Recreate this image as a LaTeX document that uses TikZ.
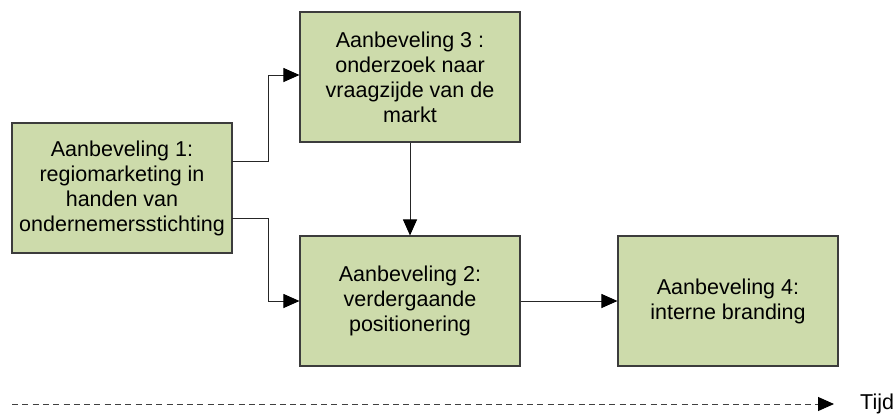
\documentclass[tikz,border=0pt]{standalone}
\usepackage{fontspec}
\setmainfont{Liberation Sans}
\usetikzlibrary{arrows.meta}
\definecolor{boxfill}{RGB}{205,219,171}
\definecolor{boxline}{RGB}{60,60,60}
\tikzset{
  tip/.style={-{Triangle[length=16pt,width=14pt,color=black]}},
  stepbox/.style={draw=boxline, line width=1.1pt, fill=boxfill, minimum width=220pt,
    minimum height=130pt, align=center, inner sep=0pt,
    font=\fontsize{21.5pt}{25pt}\selectfont},
  link/.style={draw=black!85, line width=1pt, tip},
}
\begin{document}
\begin{tikzpicture}[x=1pt,y=-1pt]
\useasboundingbox (0,0) rectangle (896,415);
\node[stepbox] (a1) at (122,188) {Aanbeveling 1:\\regiomarketing in\\handen van\\ondernemersstichting};
\node[stepbox] (a3) at (410,77) {Aanbeveling 3 :\\onderzoek naar\\vraagzijde van de\\markt};
\node[stepbox] (a2) at (410,301) {Aanbeveling 2:\\verdergaande\\positionering};
\node[stepbox] (a4) at (728,301) {Aanbeveling 4:\\interne branding};
\coordinate (o1) at (232,161);
\coordinate (o2) at (232,218);
\draw[link] (o1) -| (268,75) -- (a3.west |- 0,75);
\draw[link] (o2) -| (268,301) -- (a2.west);
\draw[link] (a3) -- (a2);
\draw[link] (a2) -- (a4);
\coordinate (t0) at (12,404);
\node[font=\fontsize{21.5pt}{25pt}\selectfont, anchor=west, inner sep=0pt] (tijd) at (860,404) {Tijd};
\coordinate (t1) at (834,404);
\draw[draw=black!75, line width=1pt, dash pattern=on 6pt off 4.3pt, tip] (t0) -- (t1);
\end{tikzpicture}
\end{document}
